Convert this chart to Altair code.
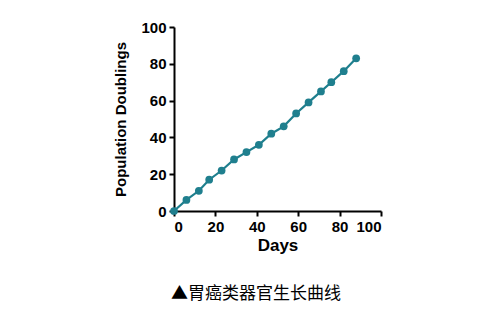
import altair as alt
import pandas as pd

days = [0, 6, 12, 17, 23, 29, 35, 41, 47, 53, 59, 65, 71, 76, 82, 88]
doublings = [0, 6, 11, 17, 22, 28, 32, 36, 42, 46, 53, 59, 65, 70, 76, 83]
x_ticks = [0, 20, 40, 60, 80, 100]
y_ticks = [0, 20, 40, 60, 80, 100]
caption = "▲胃癌类器官生长曲线"

df = pd.DataFrame({"Days": days, "PD": doublings})
color = "#1f7f8e"

axis_common = dict(
    domainColor="black", domainWidth=2, tickColor="black", tickWidth=2, tickSize=5,
    labelFont="Liberation Sans", labelFontWeight="bold", labelFontSize=15, labelColor="black",
    titleFont="Liberation Sans", titleFontWeight="bold", titleColor="black",
    grid=False,
)

base = alt.Chart(df)
x = alt.X("Days:Q", title="Days", scale=alt.Scale(domain=[0, 100], nice=False),
          axis=alt.Axis(values=x_ticks, titlePadding=3, labelPadding=3, titleFontSize=17, **axis_common))
y = alt.Y("PD:Q", title="Population Doublings", scale=alt.Scale(domain=[0, 100], nice=False),
          axis=alt.Axis(values=y_ticks, titlePadding=12, labelPadding=3, titleFontSize=15, **axis_common))

line = base.mark_line(color=color, strokeWidth=2.2).encode(x=x, y=y)
pts = base.mark_circle(color=color, size=60, opacity=1).encode(x=x, y=y)

cap = alt.Chart(pd.DataFrame({"t": [caption]})).mark_text(
    font="Noto Sans CJK SC", fontSize=17, color="black", baseline="middle", align="center"
).encode(text="t:N", x=alt.value(82), y=alt.value(267))

chart = alt.layer(line, pts, cap).properties(
    width=207, height=184,
    autosize=alt.AutoSizeParams(type="none"),
    padding={"left": 174, "top": 27, "right": 123, "bottom": 101},
).configure_view(stroke=None)

chart.save("out.html", embed_options={"renderer": "svg", "actions": False})
